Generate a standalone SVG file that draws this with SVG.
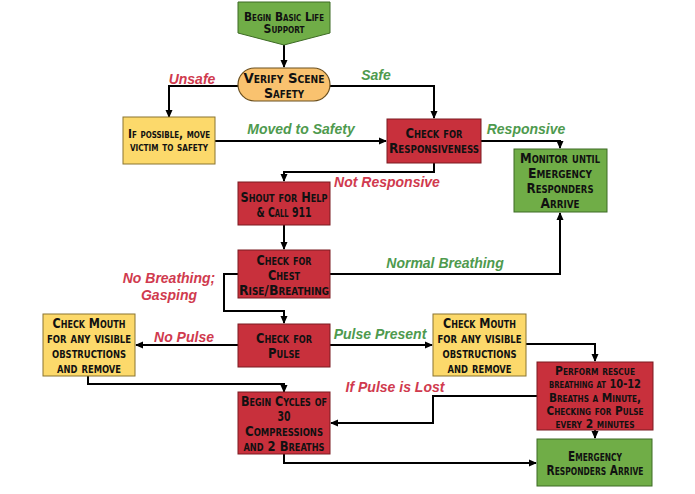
<svg xmlns="http://www.w3.org/2000/svg" width="695" height="494" viewBox="0 0 695 494">
<defs>
<marker id="ah" markerWidth="8" markerHeight="8" refX="7" refY="4" orient="auto" markerUnits="userSpaceOnUse">
<path d="M0,0.5 L8,4 L0,7.5 Z" fill="#000"/>
</marker>
<style>
.red{fill:#c8303c;stroke:#7a1a20;stroke-width:1}
.yel{fill:#fcd96b;stroke:#8a7530;stroke-width:1}
.grn{fill:#70ad47;stroke:#3d6b25;stroke-width:1}
.org{fill:#f9c26f;stroke:#6b5020;stroke-width:1.2}
.nt{font-family:"DejaVu Sans Condensed","DejaVu Sans",sans-serif;font-weight:bold;font-variant:small-caps;font-size:14px;fill:#111;text-anchor:middle}
.big{font-size:14.5px}
.sm{font-size:12px}
.md{font-size:13px}
.c{fill:none;stroke:#000;stroke-width:2}
.lbl{font-family:"Liberation Sans",Arial,sans-serif;font-weight:bold;font-style:italic;font-size:14px;text-anchor:middle}
.lr{fill:#d03a4e}
.lg{fill:#4e9a4e}
</style>
</defs>
<rect width="695" height="494" fill="#fff"/>

<g id="connectors">
<path class="c" d="M284,45 V67" marker-end="url(#ah)"/>
<path class="c" d="M238,86 H169 V117" marker-end="url(#ah)"/>
<path class="c" d="M330,86 H434 V118" marker-end="url(#ah)"/>
<path class="c" d="M215,141 H386" marker-end="url(#ah)"/>
<path class="c" d="M481,141 H560 V148" marker-end="url(#ah)"/>
<path class="c" d="M434,163 V172 H284 V181" marker-end="url(#ah)"/>
<path class="c" d="M284,225 V249" marker-end="url(#ah)" stroke-width="1.2"/>
<path class="c" d="M330,274 H560 V213" marker-end="url(#ah)"/>
<path class="c" d="M238,274 H224 V311 H284 V323" marker-end="url(#ah)"/>
<path class="c" d="M238,345 H136" marker-end="url(#ah)"/>
<path class="c" d="M330,345 H432" marker-end="url(#ah)"/>
<path class="c" d="M88,376 V384 H284 V392" marker-end="url(#ah)"/>
<path class="c" d="M526,344 H595 V361" marker-end="url(#ah)"/>
<path class="c" d="M537,396 H433 V423 H331" marker-end="url(#ah)"/>
<path class="c" d="M595,430 V438" marker-end="url(#ah)" stroke-width="1.2"/>
<path class="c" d="M284,454 V463 H536" marker-end="url(#ah)"/>
</g>

<g id="edge-labels">
<text class="lbl lr" x="192" y="84">Unsafe</text>
<text class="lbl lg" x="376" y="80">Safe</text>
<text class="lbl lg" x="301" y="134">Moved to Safety</text>
<text class="lbl lg" x="526" y="134">Responsive</text>
<text class="lbl lr" x="387" y="187">Not Responsive</text>
<text class="lbl lg" x="445" y="268">Normal Breathing</text>
<text class="lbl lr" x="169" y="283">No Breathing;</text>
<text class="lbl lr" x="169" y="300">Gasping</text>
<text class="lbl lr" x="184" y="342">No Pulse</text>
<text class="lbl lg" x="380" y="339">Pulse Present</text>
<text class="lbl lr" x="395" y="392">If Pulse is Lost</text>
</g>

<g id="begin">
<path class="grn" d="M238,2 H330 V33 L284,45 L238,33 Z"/>
<text class="nt sm" x="284" y="21" textLength="80" lengthAdjust="spacingAndGlyphs">Begin Basic Life</text>
<text class="nt sm" x="284" y="33" textLength="41" lengthAdjust="spacingAndGlyphs">Support</text>
</g>

<g id="verify">
<rect class="org" x="238" y="68" width="92" height="33" rx="16.5"/>
<text class="nt big" x="284" y="83" textLength="81" lengthAdjust="spacingAndGlyphs">Verify Scene</text>
<text class="nt big" x="284" y="98" textLength="40" lengthAdjust="spacingAndGlyphs">Safety</text>
</g>

<g id="move">
<rect class="yel" x="123" y="117" width="92" height="47"/>
<text class="nt sm" x="169" y="138" textLength="82" lengthAdjust="spacingAndGlyphs">If possible, move</text>
<text class="nt sm" x="169" y="151" textLength="78" lengthAdjust="spacingAndGlyphs">victim to safety</text>
</g>

<g id="responsiveness">
<rect class="red" x="387" y="119" width="94" height="44"/>
<text class="nt" x="434" y="138" textLength="57" lengthAdjust="spacingAndGlyphs">Check for</text>
<text class="nt" x="434" y="153" textLength="90" lengthAdjust="spacingAndGlyphs">Responsiveness</text>
</g>

<g id="monitor">
<rect class="grn" x="514" y="149" width="93" height="63"/>
<text class="nt" x="560" y="163" textLength="80" lengthAdjust="spacingAndGlyphs">Monitor until</text>
<text class="nt" x="560" y="178" textLength="64" lengthAdjust="spacingAndGlyphs">Emergency</text>
<text class="nt" x="560" y="193" textLength="67" lengthAdjust="spacingAndGlyphs">Responders</text>
<text class="nt" x="560" y="208" textLength="39" lengthAdjust="spacingAndGlyphs">Arrive</text>
</g>

<g id="shout">
<rect class="red" x="238" y="182" width="92" height="43"/>
<text class="nt" x="284" y="202" textLength="87" lengthAdjust="spacingAndGlyphs">Shout for Help</text>
<text class="nt" x="284" y="217" textLength="55" lengthAdjust="spacingAndGlyphs">&amp; Call 911</text>
</g>

<g id="chest">
<rect class="red" x="238" y="250" width="92" height="48"/>
<text class="nt" x="284" y="265" textLength="55" lengthAdjust="spacingAndGlyphs">Check for</text>
<text class="nt" x="284" y="280" textLength="32" lengthAdjust="spacingAndGlyphs">Chest</text>
<text class="nt" x="284" y="295" textLength="90" lengthAdjust="spacingAndGlyphs">Rise/Breathing</text>
</g>

<g id="pulse">
<rect class="red" x="238" y="324" width="92" height="43"/>
<text class="nt" x="284" y="343" textLength="56" lengthAdjust="spacingAndGlyphs">Check for</text>
<text class="nt" x="284" y="358" textLength="32" lengthAdjust="spacingAndGlyphs">Pulse</text>
</g>

<g id="mouth-left">
<rect class="yel" x="43" y="314" width="92" height="62"/>
<text class="nt" x="89" y="328" textLength="73" lengthAdjust="spacingAndGlyphs">Check Mouth</text>
<text class="nt" x="89" y="343" textLength="84" lengthAdjust="spacingAndGlyphs">for any visible</text>
<text class="nt" x="89" y="358" textLength="74" lengthAdjust="spacingAndGlyphs">obstructions</text>
<text class="nt" x="89" y="373" textLength="64" lengthAdjust="spacingAndGlyphs">and remove</text>
</g>

<g id="mouth-right">
<rect class="yel" x="433" y="314" width="93" height="62"/>
<text class="nt" x="479.5" y="328" textLength="73" lengthAdjust="spacingAndGlyphs">Check Mouth</text>
<text class="nt" x="479.5" y="343" textLength="84" lengthAdjust="spacingAndGlyphs">for any visible</text>
<text class="nt" x="479.5" y="358" textLength="74" lengthAdjust="spacingAndGlyphs">obstructions</text>
<text class="nt" x="479.5" y="373" textLength="64" lengthAdjust="spacingAndGlyphs">and remove</text>
</g>

<g id="rescue">
<rect class="red" x="537" y="362" width="116" height="68"/>
<text class="nt md" x="595" y="375" textLength="80" lengthAdjust="spacingAndGlyphs">Perform rescue</text>
<text class="nt md" x="595" y="388" textLength="92" lengthAdjust="spacingAndGlyphs">breathing at 10-12</text>
<text class="nt md" x="595" y="402" textLength="92" lengthAdjust="spacingAndGlyphs">Breaths a Minute,</text>
<text class="nt md" x="595" y="415" textLength="97" lengthAdjust="spacingAndGlyphs">Checking for Pulse</text>
<text class="nt md" x="595" y="428" textLength="79" lengthAdjust="spacingAndGlyphs">every 2 minutes</text>
</g>

<g id="cycles">
<rect class="red" x="238" y="392" width="92" height="62"/>
<text class="nt" x="284" y="406" textLength="86" lengthAdjust="spacingAndGlyphs">Begin Cycles of</text>
<text class="nt" x="284" y="421" textLength="13" lengthAdjust="spacingAndGlyphs">30</text>
<text class="nt" x="284" y="436" textLength="78" lengthAdjust="spacingAndGlyphs">Compressions</text>
<text class="nt" x="284" y="451" textLength="81" lengthAdjust="spacingAndGlyphs">and 2 Breaths</text>
</g>

<g id="emergency">
<rect class="grn" x="537" y="439" width="115" height="47"/>
<text class="nt" x="595" y="461" textLength="54" lengthAdjust="spacingAndGlyphs">Emergency</text>
<text class="nt" x="595" y="475" textLength="97" lengthAdjust="spacingAndGlyphs">Responders Arrive</text>
</g>
</svg>
